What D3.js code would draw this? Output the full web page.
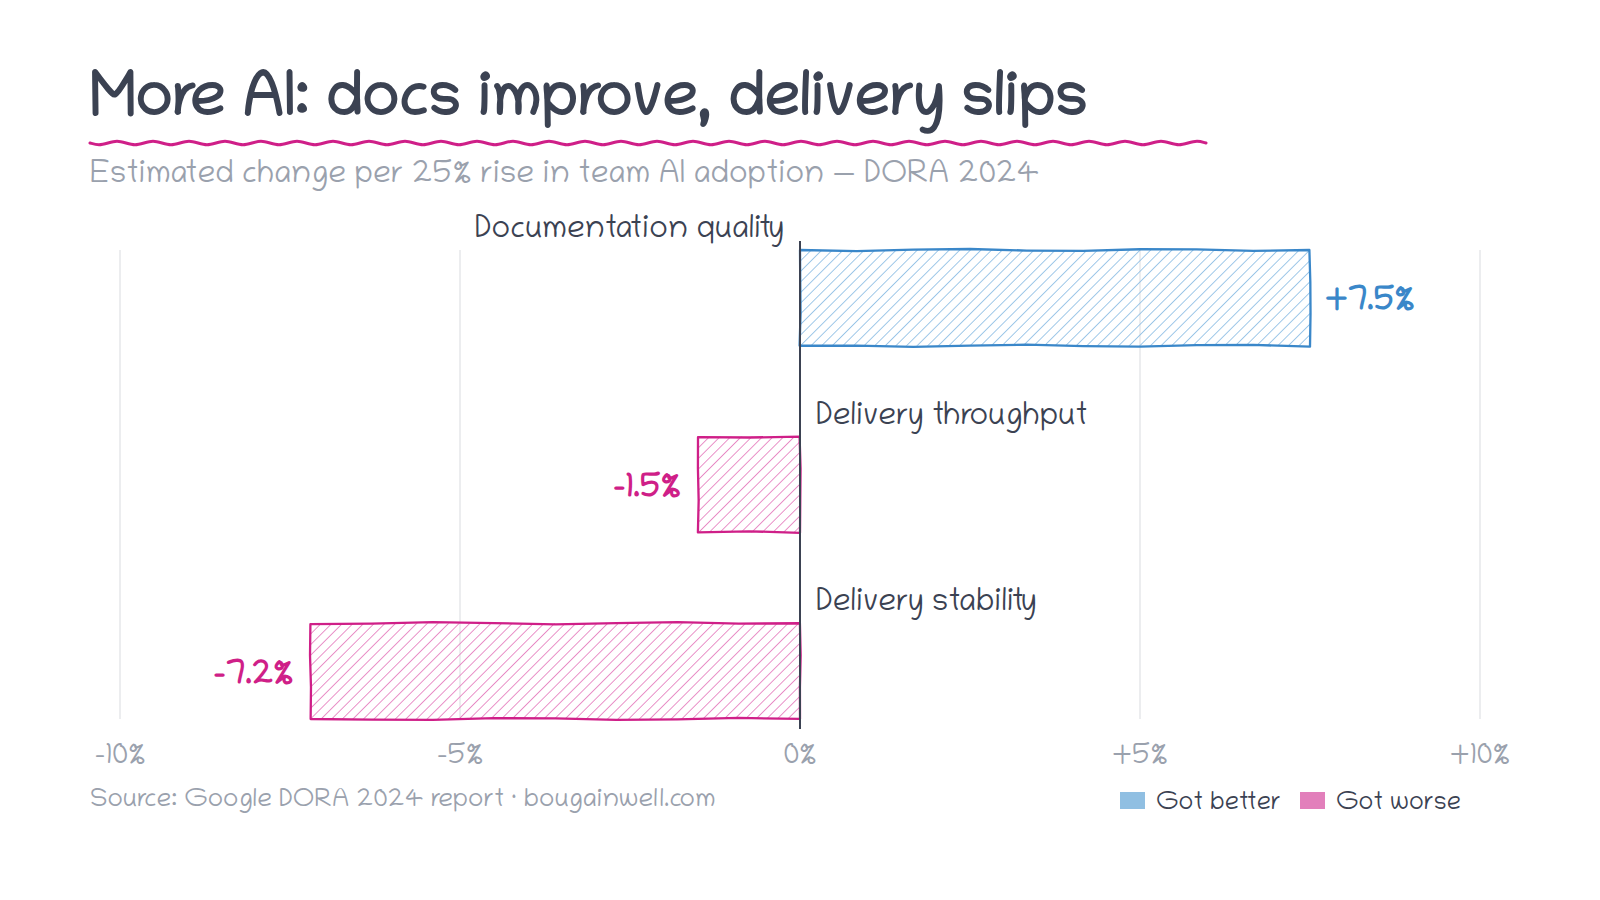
<!DOCTYPE html>
<html>
<head>
<meta charset="utf-8">
<script src="https://cdn.jsdelivr.net/npm/d3@7"></script>
<style>
  html, body { margin: 0; padding: 0; background: #fff; }
  svg text { font-family: "Chilanka", "Kalam", cursive; }
</style>
</head>
<body>
<div id="chart"></div>
<script>
// data
var categories = ["Documentation quality", "Delivery throughput", "Delivery stability"];
var changes = [7.5, -1.5, -7.2];
var valueLabels = ["+7.5%", "\u22121.5%", "\u22127.2%"];
var ticks = [-10, -5, 0, 5, 10];
var tickLabels = ["\u221210%", "\u22125%", "0%", "+5%", "+10%"];
var legendItems = ["Got better", "Got worse"];

var width = 1600, height = 900;
var dark = "#3b4252", grey = "#9aa1ad";
var blue = "#3a87c9", blueHatch = "#8fbfe5", pink = "#cf1f88", pinkHatch = "#e67fbf";

var svg = d3.select("#chart").append("svg")
    .attr("width", width)
    .attr("height", height);

var defs = svg.append("defs");
function hatch(id, col) {
  var p = defs.append("pattern")
      .attr("id", id)
      .attr("patternUnits", "userSpaceOnUse")
      .attr("width", 7.5).attr("height", 7.5)
      .attr("patternTransform", "rotate(45)");
  p.append("line")
      .attr("x1", 0).attr("y1", 0).attr("x2", 0).attr("y2", 7.5)
      .attr("stroke", col).attr("stroke-width", 1.7);
}
hatch("hatchBlue", blueHatch);
hatch("hatchPink", pinkHatch);

var x = d3.scaleLinear().domain([-10, 10]).range([120, 1480]);
var y = d3.scaleBand().domain(categories).range([250, 719]).paddingInner(0.487);

// title
svg.append("text")
    .attr("x", 90).attr("y", 114)
    .attr("fill", dark)
    .attr("font-size", 62.5)
    .attr("font-weight", 700)
    .text("More AI: docs improve, delivery slips");

// wavy underline
var wave = d3.range(0, 125).map(function(i) {
  var xx = 90 + i * 9;
  return [Math.min(xx, 1211), 143 + Math.sin(i * Math.PI / 2) * 2.6];
});
svg.append("path")
    .attr("d", d3.line().curve(d3.curveBasis)(wave))
    .attr("fill", "none")
    .attr("stroke", pink)
    .attr("stroke-width", 3)
    .attr("stroke-linecap", "round");

svg.append("text")
    .attr("x", 90).attr("y", 182)
    .attr("fill", grey)
    .attr("font-size", 31.5)
    .text("Estimated change per 25% rise in team AI adoption \u2014 DORA 2024");

// grid
svg.append("g").selectAll("line")
    .data(ticks.filter(function(t) { return t !== 0; }))
    .enter().append("line")
    .attr("x1", function(d) { return x(d); })
    .attr("x2", function(d) { return x(d); })
    .attr("y1", 250).attr("y2", 719)
    .attr("stroke", "#e6e7ea")
    .attr("stroke-width", 1.5);

// tick labels
svg.append("g").selectAll("text")
    .data(ticks)
    .enter().append("text")
    .attr("x", function(d) { return x(d); })
    .attr("y", 763)
    .attr("text-anchor", "middle")
    .attr("fill", grey)
    .attr("font-size", 29)
    .text(function(d, i) { return tickLabels[i]; });

// sketchy rectangle outline
function roughRect(x0, y0, x1, y1, seed) {
  var pts = [];
  function edge(ax, ay, bx, by, n, k) {
    for (var i = 0; i < n; i++) {
      var t = i / n;
      var w = Math.sin((i + seed + k) * 1.7) * 1.1;
      var px = ax + (bx - ax) * t, py = ay + (by - ay) * t;
      if (ay === by) py += w; else px += w * 0.6;
      pts.push([px, py]);
    }
  }
  var nx = Math.max(2, Math.round(Math.abs(x1 - x0) / 60));
  var ny = 3;
  edge(x0, y0, x1, y0, nx, 0);
  edge(x1, y0, x1, y1, ny, 3);
  edge(x1, y1, x0, y1, nx, 5);
  edge(x0, y1, x0, y0, ny, 7);
  return d3.line().curve(d3.curveLinearClosed)(pts);
}

var rows = categories.map(function(c, i) {
  return { cat: c, v: changes[i], label: valueLabels[i], i: i };
});

var bars = svg.append("g").selectAll("g")
    .data(rows)
    .enter().append("g");

bars.append("rect")
    .attr("x", function(d) { return x(Math.min(0, d.v)); })
    .attr("y", function(d) { return y(d.cat); })
    .attr("width", function(d) { return Math.abs(x(d.v) - x(0)); })
    .attr("height", y.bandwidth())
    .attr("fill", function(d) { return d.v >= 0 ? "url(#hatchBlue)" : "url(#hatchPink)"; });

bars.append("path")
    .attr("d", function(d) {
      return roughRect(x(Math.min(0, d.v)), y(d.cat), x(Math.max(0, d.v)), y(d.cat) + y.bandwidth(), d.i * 4);
    })
    .attr("fill", "none")
    .attr("stroke", function(d) { return d.v >= 0 ? blue : pink; })
    .attr("stroke-width", 2.3)
    .attr("stroke-linejoin", "round");

// category labels
bars.append("text")
    .attr("x", function(d) { return d.v >= 0 ? x(0) - 16 : x(0) + 16; })
    .attr("y", function(d) { return y(d.cat) - 24; })
    .attr("dy", "0.35em")
    .attr("text-anchor", function(d) { return d.v >= 0 ? "end" : "start"; })
    .attr("fill", dark)
    .attr("font-size", 31.5)
    .text(function(d) { return d.cat; });

// value labels
bars.append("text")
    .attr("x", function(d) { return d.v >= 0 ? x(d.v) + 15 : x(d.v) - 17; })
    .attr("y", function(d) { return y(d.cat) + y.bandwidth() / 2; })
    .attr("dy", "0.35em")
    .attr("text-anchor", function(d) { return d.v >= 0 ? "start" : "end"; })
    .attr("fill", function(d) { return d.v >= 0 ? blue : pink; })
    .attr("font-size", 33)
    .attr("font-weight", 700)
    .text(function(d) { return d.label; });

// zero axis
svg.append("line")
    .attr("x1", x(0)).attr("x2", x(0))
    .attr("y1", 241).attr("y2", 729)
    .attr("stroke", dark)
    .attr("stroke-width", 2);

// footer
svg.append("text")
    .attr("x", 90).attr("y", 806)
    .attr("fill", grey)
    .attr("font-size", 26)
    .text("Source: Google DORA 2024 report \u00b7 bougainwell.com");

var legend = svg.append("g").selectAll("g")
    .data(legendItems)
    .enter().append("g")
    .attr("transform", function(d, i) { return "translate(" + (i === 0 ? 1120 : 1300) + ",792)"; });
legend.append("rect")
    .attr("width", 25).attr("height", 17)
    .attr("fill", function(d, i) { return i === 0 ? "#90bfe2" : "#e27fbb"; });
legend.append("text")
    .attr("x", 36).attr("y", 8.5)
    .attr("dy", "0.35em")
    .attr("fill", dark)
    .attr("font-size", 25)
    .text(function(d) { return d; });
</script>
</body>
</html>
